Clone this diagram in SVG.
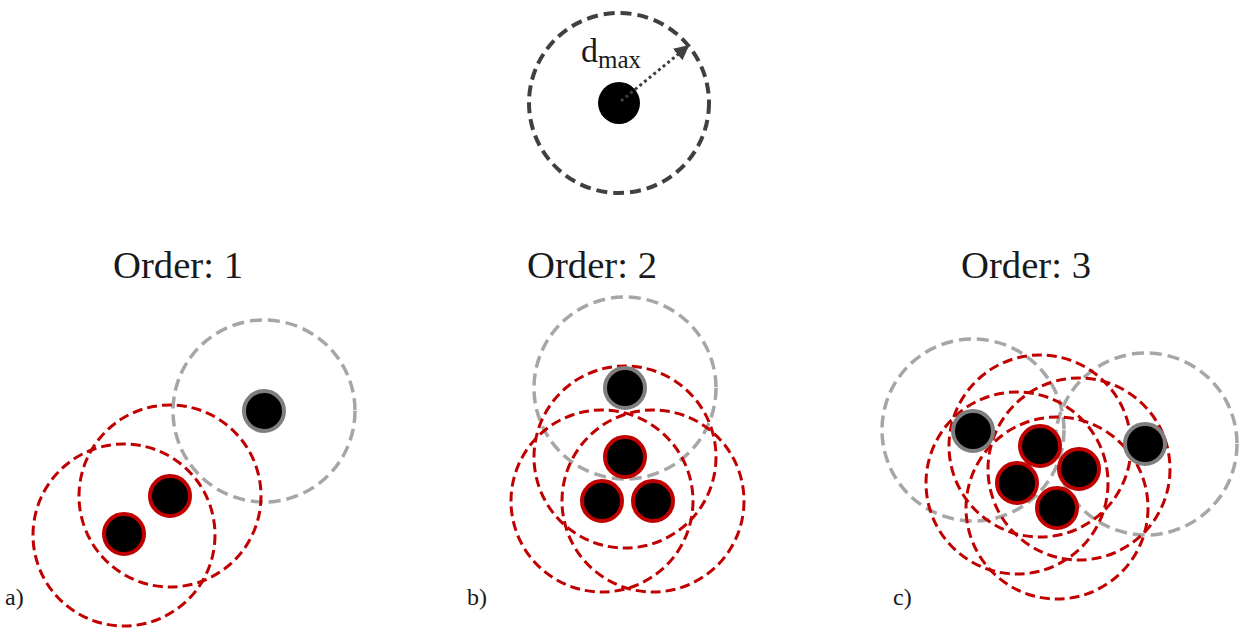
<svg xmlns="http://www.w3.org/2000/svg" width="1239" height="628" viewBox="0 0 1239 628">
<defs>
<style>
.txt{font-family:"Liberation Serif","DejaVu Serif",serif;fill:#1a1a1a}
.title{font-size:37px;text-anchor:middle}
.lab{font-size:24px}
.rng-red{fill:none;stroke:#C00000;stroke-width:3;stroke-dasharray:10 5}
.rng-gray{fill:none;stroke:#A6A6A6;stroke-width:3.5;stroke-dasharray:12 6}
.rng-top{fill:none;stroke:#404040;stroke-width:4;stroke-dasharray:11 6}
.dot-red{fill:#000;stroke:#C00000;stroke-width:4}
.dot-gray{fill:#000;stroke:#7F7F7F;stroke-width:4}
</style>
<marker id="ah" viewBox="0 0 10 10" refX="8" refY="5" markerWidth="5" markerHeight="5" orient="auto" markerUnits="strokeWidth">
<path d="M0,0 L10,5 L0,10 z" fill="#404040"/>
</marker>
</defs>
<rect width="1239" height="628" fill="#fff"/>

<g id="legend">
<circle class="rng-top" cx="619" cy="103" r="90"/>
<circle cx="619" cy="103" r="21" fill="#000"/>
<text class="txt" x="581" y="62" font-size="34">d<tspan font-size="25" dy="6">max</tspan></text>
</g>

<g id="connectors">
<line x1="621" y1="101" x2="687" y2="47" stroke="#404040" stroke-width="3" stroke-dasharray="3 3" marker-end="url(#ah)"/>
</g>

<g id="panel-a">
<text class="txt title" x="178" y="278" textLength="130" lengthAdjust="spacingAndGlyphs">Order: 1</text>
<circle class="rng-gray" cx="264" cy="411" r="91"/>
<circle class="rng-red" cx="170" cy="496" r="91"/>
<circle class="rng-red" cx="124" cy="535" r="91"/>
<circle class="dot-gray" cx="264" cy="411" r="20"/>
<circle class="dot-red" cx="170" cy="496" r="20"/>
<circle class="dot-red" cx="124" cy="534" r="20"/>
<text class="txt lab" x="5" y="605">a)</text>
</g>

<g id="panel-b">
<text class="txt title" x="592" y="278" textLength="130" lengthAdjust="spacingAndGlyphs">Order: 2</text>
<circle class="rng-gray" cx="625" cy="388" r="91"/>
<circle class="rng-red" cx="625" cy="457" r="91"/>
<circle class="rng-red" cx="602" cy="501" r="91"/>
<circle class="rng-red" cx="653" cy="501" r="91"/>
<circle class="dot-gray" cx="625" cy="388" r="20"/>
<circle class="dot-red" cx="625" cy="457" r="20"/>
<circle class="dot-red" cx="602" cy="501" r="20"/>
<circle class="dot-red" cx="653" cy="501" r="20"/>
<text class="txt lab" x="467" y="605">b)</text>
</g>

<g id="panel-c">
<text class="txt title" x="1026" y="278" textLength="130" lengthAdjust="spacingAndGlyphs">Order: 3</text>
<circle class="rng-gray" cx="973" cy="430" r="91"/>
<circle class="rng-gray" cx="1146" cy="444" r="91"/>
<circle class="rng-red" cx="1040" cy="446" r="91"/>
<circle class="rng-red" cx="1079" cy="469" r="91"/>
<circle class="rng-red" cx="1017" cy="483" r="91"/>
<circle class="rng-red" cx="1057" cy="508" r="91"/>
<circle class="dot-gray" cx="973" cy="431" r="20"/>
<circle class="dot-gray" cx="1145" cy="444" r="20"/>
<circle class="dot-red" cx="1040" cy="446" r="20"/>
<circle class="dot-red" cx="1079" cy="469" r="20"/>
<circle class="dot-red" cx="1017" cy="483" r="20"/>
<circle class="dot-red" cx="1057" cy="508" r="20"/>
<text class="txt lab" x="893" y="605">c)</text>
</g>
</svg>
